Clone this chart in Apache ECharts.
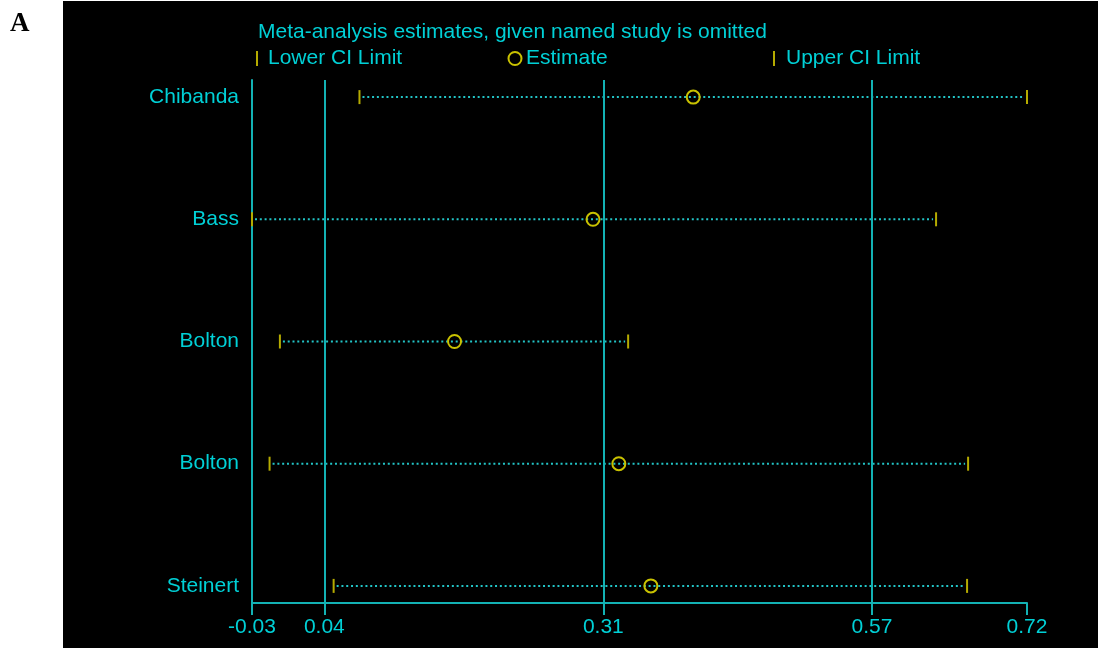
<!DOCTYPE html>
<html>
<head>
<meta charset="utf-8">
<title>Meta-analysis influence plot</title>
<script src="https://cdn.jsdelivr.net/npm/echarts@6/dist/echarts.min.js"></script>
<style>
  html, body { margin: 0; padding: 0; background: #ffffff; }
  #wrap { position: relative; width: 1098px; height: 648px; }
  #panel { position: absolute; left: 63px; top: 1px; width: 1035px; height: 647px; background: #000000; }
  #chart { position: absolute; left: 0; top: 0; width: 1098px; height: 648px; }
</style>
</head>
<body>
<div id="wrap">
  <div id="panel"></div>
  <div id="chart"></div>
</div>
<script>
// Studies (each row = pooled estimate with that study left out)
const studies = ['Chibanda', 'Bass', 'Bolton', 'Bolton', 'Steinert'];
const lowerCI = [0.074, -0.030, -0.003, -0.013, 0.049];
const estimate = [0.397, 0.300, 0.166, 0.325, 0.356];
const upperCI = [0.720, 0.632, 0.334, 0.663, 0.662];

// Axis ticks and reference lines
const xTicks = [-0.03, 0.04, 0.31, 0.57, 0.72];
const xTickLabels = ['-0.03', '0.04', '0.31', '0.57', '0.72'];
const refLines = [0.04, 0.31, 0.57];
const rowIndex = [0, 1, 2, 3, 4];

const titleText = 'Meta-analysis estimates, given named study is omitted';
const legendLabels = ['Lower CI Limit', 'Estimate', 'Upper CI Limit'];

const TEXT = '#00d0d6';
const AXIS = '#13b2b4';
const DOTS = '#22c4c6';
const YEL_TICK = '#b5ab00';
const YEL_CIRC = '#c9c200';
const FONT = '"Liberation Sans", Arial, sans-serif';
const FS = 21;

const chart = echarts.init(document.getElementById('chart'), null, { renderer: 'canvas' });

const rows = studies.map((s, i) => [i, lowerCI[i], estimate[i], upperCI[i]]);

function tickLabel(v) {
  let best = 0;
  for (let i = 1; i < xTicks.length; i++) {
    if (Math.abs(xTicks[i] - v) < Math.abs(xTicks[best] - v)) best = i;
  }
  return xTickLabels[best];
}

function renderRow(params, api) {
  const idx = api.value(0);
  const pL = api.coord([api.value(1), idx]);
  const pE = api.coord([api.value(2), idx]);
  const pU = api.coord([api.value(3), idx]);
  const y = pL[1];
  return {
    type: 'group',
    children: [
      {
        type: 'line',
        shape: { x1: pL[0] + 3, y1: y, x2: pU[0] - 3, y2: y },
        style: { stroke: DOTS, lineWidth: 2, lineDash: [2, 2.8] }
      },
      {
        type: 'line',
        shape: { x1: pL[0], y1: y - 7, x2: pL[0], y2: y + 7 },
        style: { stroke: YEL_TICK, lineWidth: 2 }
      },
      {
        type: 'line',
        shape: { x1: pU[0], y1: y - 7, x2: pU[0], y2: y + 7 },
        style: { stroke: YEL_TICK, lineWidth: 2 }
      },
      {
        type: 'circle',
        shape: { cx: pE[0], cy: y, r: 6.5 },
        style: { stroke: YEL_CIRC, lineWidth: 2, fill: null }
      }
    ]
  };
}

const option = {
  backgroundColor: 'transparent',
  animation: false,
  grid: { left: 252, right: 71, top: 80, bottom: 45, containLabel: false, outerBoundsMode: 'none' },
  xAxis: {
    type: 'value',
    min: -0.03,
    max: 0.72,
    splitLine: { show: false },
    axisLine: { show: true, onZero: false, lineStyle: { color: AXIS, width: 2 } },
    axisTick: { show: true, customValues: xTicks, length: 12, lineStyle: { color: AXIS, width: 2 } },
    axisLabel: {
      customValues: xTicks,
      formatter: tickLabel,
      color: TEXT,
      fontSize: FS,
      fontFamily: FONT,
      margin: 14
    }
  },
  yAxis: {
    type: 'value',
    inverse: true,
    min: -0.14,
    max: 4.14,
    splitLine: { show: false },
    axisLine: { show: true, onZero: false, lineStyle: { color: AXIS, width: 2 } },
    axisTick: { show: false },
    axisLabel: {
      customValues: rowIndex,
      formatter: (v) => studies[Math.round(v)],
      color: TEXT,
      fontSize: FS,
      fontFamily: FONT,
      margin: 13
    }
  },
  graphic: [
    {
      type: 'text', left: 10, top: 11,
      style: { text: 'A', fill: '#000000', font: 'bold 27px "Liberation Serif", "Times New Roman", serif' }
    },
    {
      type: 'text', x: 258, y: 32,
      style: { text: titleText, fill: TEXT, font: FS + 'px ' + FONT, textVerticalAlign: 'middle' }
    },
    {
      type: 'line', shape: { x1: 257, y1: 51, x2: 257, y2: 66 },
      style: { stroke: YEL_TICK, lineWidth: 2 }
    },
    {
      type: 'text', x: 268, y: 58.5,
      style: { text: legendLabels[0], fill: TEXT, font: FS + 'px ' + FONT, textVerticalAlign: 'middle' }
    },
    {
      type: 'circle', shape: { cx: 515, cy: 58.5, r: 6.5 },
      style: { stroke: YEL_CIRC, lineWidth: 2, fill: null }
    },
    {
      type: 'text', x: 526, y: 58.5,
      style: { text: legendLabels[1], fill: TEXT, font: FS + 'px ' + FONT, textVerticalAlign: 'middle' }
    },
    {
      type: 'line', shape: { x1: 774, y1: 51, x2: 774, y2: 66 },
      style: { stroke: YEL_TICK, lineWidth: 2 }
    },
    {
      type: 'text', x: 786, y: 58.5,
      style: { text: legendLabels[2], fill: TEXT, font: FS + 'px ' + FONT, textVerticalAlign: 'middle' }
    }
  ],
  series: [
    {
      type: 'custom',
      renderItem: renderRow,
      encode: { x: [1, 2, 3], y: 0 },
      data: rows,
      clip: false,
      markLine: {
        silent: true,
        symbol: 'none',
        label: { show: false },
        lineStyle: { color: AXIS, width: 2, type: 'solid' },
        data: refLines.map((v) => ({ xAxis: v }))
      }
    }
  ]
};

chart.setOption(option);
</script>
</body>
</html>
